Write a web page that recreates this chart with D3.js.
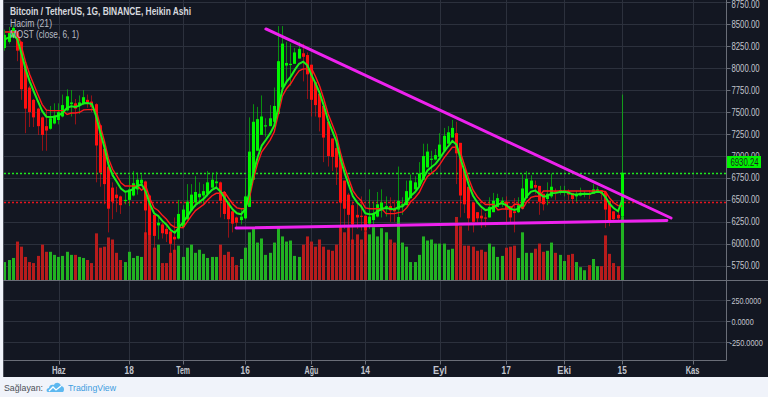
<!DOCTYPE html>
<html>
<head>
<meta charset="utf-8">
<script src="https://cdn.jsdelivr.net/npm/d3@7"></script>
<style>
html, body { margin: 0; padding: 0; background: #f0f3fa; }
svg { display: block; }
</style>
</head>
<body>
<svg id="chart" width="768" height="397"></svg>
<script>
// ---- data (Heikin Ashi daily candles, BTC/USDT) ----
var firstDay = '2018-05-19';

var haOpen = [8230,8300,8350,8400,8300,8030,7780,7640,7540,7440,
  7340,7310,7370,7410,7450,7520,7590,7600,7570,7590,
  7640,7620,7590,7350,7080,6880,6640,6560,6540,6490,
  6500,6550,6620,6690,6710,6550,6330,6210,6220,6170,
  6140,6080,6060,6190,6280,6380,6470,6530,6550,6570,
  6640,6690,6700,6590,6470,6370,6300,6270,6290,6420,
  6730,7060,7240,7340,7340,7390,7480,7780,8030,8040,
  8050,8110,8170,8150,8040,7840,7710,7570,7390,7200,
  7090,6980,6720,6560,6440,6330,6320,6320,6230,6270,
  6310,6380,6420,6430,6400,6390,6440,6440,6520,6620,
  6660,6730,6870,6960,6960,6990,7060,7140,7210,7260,
  7150,6850,6650,6470,6360,6320,6300,6300,6360,6420,
  6470,6480,6430,6370,6360,6400,6520,6630,6670,6660,
  6570,6510,6540,6600,6590,6600,6600,6580,6540,6550,
  6570,6570,6570,6590,6610,6590,6490,6370,6330,6310];

var haClose = [8380,8400,8460,8200,7760,7540,7500,7440,7340,7240,
  7290,7430,7460,7500,7580,7680,7610,7540,7610,7670,
  7610,7560,7120,6810,6680,6400,6480,6520,6440,6500,
  6620,6690,6730,6730,6380,6100,6090,6240,6120,6110,
  6000,6050,6340,6390,6480,6560,6590,6570,6600,6700,
  6730,6710,6490,6340,6280,6230,6240,6310,6540,7050,
  7390,7420,7450,7350,7430,7570,8080,8280,8060,8050,
  8180,8220,8130,7930,7640,7580,7440,7210,7000,6990,
  6870,6470,6400,6330,6220,6300,6310,6150,6310,6350,
  6450,6470,6430,6380,6370,6490,6450,6600,6720,6700,
  6800,7000,7050,6970,7010,7130,7230,7270,7320,7030,
  6550,6450,6290,6250,6290,6290,6290,6420,6490,6520,
  6490,6390,6300,6350,6440,6630,6740,6720,6640,6480,
  6450,6570,6650,6590,6610,6605,6560,6510,6560,6580,
  6575,6560,6620,6620,6570,6390,6260,6280,6290,6810];

var haHigh = [8440,8470,8490,8420,8310,8050,7800,7650,7550,7450,
  7530,7570,7600,7600,7700,7760,7750,7650,7690,7750,
  7700,7690,7600,7360,7090,6890,6700,6650,6550,6590,
  6780,6830,6810,6790,6720,6560,6340,6330,6240,6200,
  6150,6300,6500,6440,6680,6680,6770,6700,6680,6830,
  6810,6820,6710,6600,6480,6380,6310,6400,6750,7440,
  7590,7560,7690,7430,7580,7780,8480,8480,8300,8280,
  8230,8300,8280,8180,8040,7840,7710,7570,7390,7200,
  7150,6980,6720,6580,6480,6480,6540,6320,6620,6480,
  6590,6620,6540,6530,6500,6880,6530,6720,6790,6770,
  6930,7140,7140,7060,7080,7260,7320,7340,7410,7390,
  7150,6850,6650,6470,6360,6400,6350,6530,6580,6570,
  6530,6540,6430,6520,6530,6790,6830,6780,6720,6660,
  6570,6700,6800,6630,6660,6660,6620,6580,6600,6640,
  6600,6610,6680,6650,6610,6590,6490,6370,6360,7700];

var haLow = [8200,8280,8340,8080,7640,7260,7330,7330,7240,7060,
  7060,7300,7360,7360,7440,7510,7450,7360,7480,7580,
  7550,7500,6700,6650,6450,6130,6280,6360,6340,6450,
  6430,6540,6560,6680,6050,6040,5950,6050,6060,6020,
  5860,5900,6050,6180,6270,6370,6420,6450,6450,6540,
  6630,6640,6300,6280,6070,6130,6190,6220,6280,6420,
  6730,7060,7240,7220,7340,7380,7480,7780,7850,7800,
  8050,8110,7850,7650,7450,7450,7280,6930,6880,6830,
  6670,6140,6170,6030,6000,6170,6150,5880,6170,6220,
  6300,6300,6310,6250,6250,6250,6330,6440,6520,6600,
  6650,6730,6870,6800,6950,6990,7060,7140,7210,6680,
  6300,6350,6150,6130,6240,6180,6190,6300,6360,6420,
  6420,6250,6230,6130,6350,6400,6520,6630,6570,6330,
  6380,6440,6520,6500,6560,6540,6500,6460,6480,6540,
  6530,6510,6570,6580,6500,6180,6200,6250,6250,6250];

// volume, thousand BTC
var volume = [18,20,22,38,33,23,18,17,24,35,
  28,28,25,23,24,28,25,25,23,22,
  20,17,46,32,33,42,40,27,20,18,
  28,22,24,23,47,45,32,35,17,17,
  27,30,34,23,32,35,27,30,26,22,
  23,23,35,25,28,23,15,21,32,47,
  51,37,41,25,27,37,52,43,38,39,
  24,23,35,43,38,33,40,33,30,29,
  35,52,47,52,40,45,40,48,45,52,
  43,51,47,40,37,62,37,33,18,18,
  25,43,39,40,36,36,36,30,31,62,
  53,34,34,33,29,30,28,36,33,23,
  24,32,33,34,22,47,27,27,31,36,
  28,29,37,27,25,19,25,26,18,13,
  10,15,21,14,14,44,26,17,14,62];

// MOST (close, 6, 1): moving average and stop line
var mostEma = [8330,8350,8381,8329,8166,7987,7848,7731,7619,7511,
  7448,7443,7448,7463,7496,7549,7566,7559,7574,7601,
  7604,7591,7456,7271,7102,6901,6781,6706,6630,6593,
  6601,6626,6656,6677,6592,6451,6348,6317,6261,6218,
  6156,6126,6187,6245,6312,6383,6442,6479,6514,6567,
  6614,6641,6598,6524,6454,6390,6347,6336,6394,6581,
  6812,6986,7119,7185,7255,7345,7555,7762,7847,7905,
  7984,8051,8074,8033,7921,7824,7714,7570,7407,7288,
  7169,6969,6806,6670,6541,6472,6426,6347,6336,6340,
  6371,6399,6408,6400,6391,6419,6428,6477,6546,6590,
  6650,6750,6836,6874,6913,6975,7048,7111,7171,7131,
  6965,6818,6667,6548,6474,6421,6384,6394,6421,6449,
  6461,6441,6401,6386,6401,6466,6544,6594,6607,6571,
  6536,6546,6576,6580,6589,6594,6584,6563,6562,6567,
  6569,6566,6581,6592,6586,6530,6453,6404,6371,6496];

var mostStop = [8413,8413,8413,8412,8248,8067,7926,7808,7695,7586,
  7522,7517,7517,7517,7517,7474,7490,7490,7498,7525,
  7528,7528,7531,7344,7173,6970,6849,6773,6696,6659,
  6659,6659,6659,6610,6658,6516,6411,6380,6324,6280,
  6218,6187,6187,6183,6249,6319,6378,6414,6449,6501,
  6548,6575,6575,6589,6519,6454,6410,6399,6399,6515,
  6744,6916,7048,7113,7182,7272,7479,7684,7769,7826,
  7904,7970,7993,7993,8000,7902,7791,7646,7481,7361,
  7241,7039,6874,6737,6606,6537,6490,6410,6399,6399,
  6399,6399,6344,6344,6344,6355,6364,6412,6481,6524,
  6584,6683,6768,6805,6844,6905,6978,7040,7099,7099,
  7035,6886,6734,6613,6539,6485,6448,6448,6448,6385,
  6396,6396,6396,6450,6450,6401,6479,6528,6541,6541,
  6601,6601,6601,6601,6601,6601,6601,6601,6601,6601,
  6601,6601,6601,6601,6601,6595,6518,6468,6435,6431];

var priceTicks = [5750,6000,6250,6500,6750,7000,7250,7500,7750,8000,8250,8500,8750];
var lowerTicks = [250, 0, -250];
var dateTicks = ['2018-06-01','2018-06-18','2018-07-01','2018-07-16','2018-08-01','2018-08-14',
  '2018-09-01','2018-09-17','2018-10-01','2018-10-15','2018-11-01'];
var dateTickLabels = ['Haz','18','Tem','16','Ağu','14','Eyl','17','Eki','15','Kas'];

// drawn trend lines and level lines
var trendUpper = [['2018-07-21T00:00:00Z', 8447], ['2018-10-26T19:00:00Z', 6294]];
var trendLower = [['2018-07-13T19:00:00Z', 6180], ['2018-10-25T19:00:00Z', 6266]];
var greenLevel = 6810;
var redLevel = 6475;
var lastPrice = 6930.24;

// ---- layout ----
var svg = d3.select('#chart');
var plotL = 4, plotR = 726.5;
var mainTop = 0, mainBot = 280.5, lowTop = 281, lowBot = 360.5, panelBot = 377;
var FONT = '"Liberation Sans", Arial, sans-serif';
var gridColor = '#2c313d';
var axisColor = '#6a6e78';
var textColor = '#c3c6ce';
var up = '#00f400', down = '#ff0f0f';

// squeeze text to the narrow width the reference uses
function narrow(sel, perChar) {
  sel.attr('textLength', function () { return this.textContent.length * perChar; })
     .attr('lengthAdjust', 'spacingAndGlyphs');
}

var start = d3.isoParse(firstDay + 'T00:00:00Z');
var days = d3.utcDay.range(start, d3.utcDay.offset(start, haClose.length));

var bars = days.map(function (d, i) {
  return { date: d, o: haOpen[i], c: haClose[i], h: haHigh[i], l: haLow[i],
           v: volume[i], ema: mostEma[i], most: mostStop[i] };
});

var x = d3.scaleUtc()
  .domain([new Date(Date.UTC(2018, 5, 1)), new Date(Date.UTC(2018, 10, 1))])
  .range([58.8, 692.6]);
var y = d3.scaleLinear().domain([5582, 8777]).range([mainBot, mainTop]);
var yLow = d3.scaleLinear().domain([-464, 476]).range([lowBot, lowTop]);
var yVol = d3.scaleLinear().domain([0, 100]).range([mainBot, 178]);

// panel background
svg.append('rect')
  .attr('x', 3).attr('y', 0)
  .attr('width', 765).attr('height', panelBot)
  .attr('fill', '#131722');
svg.append('line')
  .attr('x1', 3.5).attr('x2', 3.5).attr('y1', 0).attr('y2', panelBot)
  .attr('stroke', '#4a4e59');

svg.append('clipPath').attr('id', 'mainClip')
  .append('rect').attr('x', plotL).attr('y', mainTop)
  .attr('width', plotR - plotL).attr('height', mainBot - mainTop);

// grid
var grid = svg.append('g').attr('stroke', gridColor).attr('stroke-width', 1);
grid.selectAll('line.v')
  .data(dateTicks)
  .enter().append('line')
  .attr('class', 'v')
  .attr('x1', function (d) { return Math.round(x(d3.isoParse(d + 'T00:00:00Z'))) + 0.5; })
  .attr('x2', function (d) { return Math.round(x(d3.isoParse(d + 'T00:00:00Z'))) + 0.5; })
  .attr('y1', mainTop).attr('y2', lowBot);
grid.selectAll('line.h')
  .data(priceTicks)
  .enter().append('line')
  .attr('class', 'h')
  .attr('x1', plotL).attr('x2', plotR)
  .attr('y1', function (d) { return Math.round(y(d)) + 0.5; })
  .attr('y2', function (d) { return Math.round(y(d)) + 0.5; });
grid.selectAll('line.hl')
  .data(lowerTicks)
  .enter().append('line')
  .attr('class', 'hl')
  .attr('x1', plotL).attr('x2', plotR)
  .attr('y1', function (d) { return Math.round(yLow(d)) + 0.5; })
  .attr('y2', function (d) { return Math.round(yLow(d)) + 0.5; });

var main = svg.append('g').attr('clip-path', 'url(#mainClip)');

// volume bars
main.append('g').selectAll('rect')
  .data(bars)
  .enter().append('rect')
  .attr('x', function (d) { return Math.round(x(d.date) - 1.5); })
  .attr('y', function (d) { return yVol(d.v); })
  .attr('width', 3)
  .attr('height', function (d) { return mainBot - yVol(d.v); })
  .attr('fill', function (d) { return d.c >= d.o ? '#22b322' : '#b81c1c'; });

// level lines
var levels = [{ v: greenLevel, color: '#1ee61e' }, { v: redLevel, color: '#e8141e' }];
main.append('g').selectAll('line')
  .data(levels)
  .enter().append('line')
  .attr('x1', plotL).attr('x2', plotR)
  .attr('y1', function (d) { return Math.round(y(d.v)) + 0.5; })
  .attr('y2', function (d) { return Math.round(y(d.v)) + 0.5; })
  .attr('stroke', function (d) { return d.color; })
  .attr('stroke-width', 1.6)
  .attr('stroke-dasharray', '2,2');

// candle wicks
main.append('g').selectAll('line')
  .data(bars)
  .enter().append('line')
  .attr('x1', function (d) { return Math.round(x(d.date) - 1.5) + 1.5; })
  .attr('x2', function (d) { return Math.round(x(d.date) - 1.5) + 1.5; })
  .attr('y1', function (d) { return y(d.h); })
  .attr('y2', function (d) { return y(d.l); })
  .attr('stroke', function (d) { return d.c >= d.o ? up : down; })
  .attr('stroke-opacity', 0.55);

// candle bodies
main.append('g').selectAll('rect')
  .data(bars)
  .enter().append('rect')
  .attr('x', function (d) { return Math.round(x(d.date) - 1.5); })
  .attr('y', function (d) { return y(Math.max(d.o, d.c)); })
  .attr('width', 3)
  .attr('height', function (d) { return Math.max(1.2, Math.abs(y(d.o) - y(d.c))); })
  .attr('fill', function (d) { return d.c >= d.o ? up : down; });

// MOST lines
main.append('path')
  .datum(bars)
  .attr('fill', 'none')
  .attr('stroke', '#ff1a1a')
  .attr('stroke-width', 1.4)
  .attr('d', d3.line()
    .x(function (d) { return x(d.date); })
    .y(function (d) { return y(d.most); }));
main.append('path')
  .datum(bars)
  .attr('fill', 'none')
  .attr('stroke', '#19f019')
  .attr('stroke-width', 2)
  .attr('d', d3.line()
    .x(function (d) { return x(d.date); })
    .y(function (d) { return y(d.ema); }));

// trend lines
var trendLine = d3.line()
  .x(function (d) { return x(new Date(d[0])); })
  .y(function (d) { return y(d[1]); });
main.selectAll('path.trend')
  .data([trendUpper, trendLower])
  .enter().append('path')
  .attr('class', 'trend')
  .attr('fill', 'none')
  .attr('stroke', '#ee22ee')
  .attr('stroke-width', 3)
  .attr('stroke-linecap', 'round')
  .attr('d', trendLine);

// pane borders
var frame = svg.append('g').attr('stroke', axisColor).attr('stroke-width', 1);
frame.append('line').attr('x1', 3).attr('x2', 768).attr('y1', mainBot).attr('y2', mainBot);
frame.append('line').attr('x1', plotR).attr('x2', plotR).attr('y1', 0).attr('y2', lowBot);
frame.append('line').attr('x1', 3).attr('x2', plotR).attr('y1', lowBot).attr('y2', lowBot);

// price axis (7000 sits under the last price label, as in the reference)
var priceAxis = svg.append('g');
priceAxis.selectAll('line')
  .data(priceTicks)
  .enter().append('line')
  .attr('x1', plotR).attr('x2', plotR + 4)
  .attr('y1', function (d) { return Math.round(y(d)) + 0.5; })
  .attr('y2', function (d) { return Math.round(y(d)) + 0.5; })
  .attr('stroke', axisColor);
priceAxis.selectAll('text')
  .data(priceTicks)
  .enter().append('text')
  .attr('x', plotR + 5)
  .attr('y', function (d) { return Math.max(y(d) + 3.5, 7.5); })
  .attr('fill', textColor)
  .style('font', '10px ' + FONT)
  .text(function (d) { return d3.format('.2f')(d); })
  .call(narrow, 4);

// lower pane axis
var lowAxis = svg.append('g');
lowAxis.selectAll('line')
  .data(lowerTicks)
  .enter().append('line')
  .attr('x1', plotR).attr('x2', plotR + 4)
  .attr('y1', function (d) { return Math.round(yLow(d)) + 0.5; })
  .attr('y2', function (d) { return Math.round(yLow(d)) + 0.5; })
  .attr('stroke', axisColor);
lowAxis.selectAll('text')
  .data(lowerTicks)
  .enter().append('text')
  .attr('x', function (d) { return d < 0 ? plotR + 3 : plotR + 5; })
  .attr('y', function (d) { return yLow(d) + 3.5; })
  .attr('fill', textColor)
  .style('font', '9.5px ' + FONT)
  .text(function (d) { return d3.format('.4f')(d).replace('−', '-'); })
  .call(narrow, 3.7);

// time axis
var timeAxis = svg.append('g');
timeAxis.selectAll('line')
  .data(dateTicks)
  .enter().append('line')
  .attr('x1', function (d) { return Math.round(x(d3.isoParse(d + 'T00:00:00Z'))) + 0.5; })
  .attr('x2', function (d) { return Math.round(x(d3.isoParse(d + 'T00:00:00Z'))) + 0.5; })
  .attr('y1', lowBot).attr('y2', lowBot + 4)
  .attr('stroke', axisColor);
timeAxis.selectAll('text')
  .data(dateTicks)
  .enter().append('text')
  .attr('x', function (d) { return x(d3.isoParse(d + 'T00:00:00Z')); })
  .attr('y', 373.5)
  .attr('text-anchor', 'middle')
  .attr('fill', textColor)
  .style('font', 'bold 10px ' + FONT)
  .text(function (d, i) { return dateTickLabels[i]; })
  .call(narrow, 4.6);

// last price label
var lp = svg.append('g');
lp.append('rect')
  .attr('x', plotR + 0.5).attr('y', Math.round(y(lastPrice)) - 6)
  .attr('width', 34).attr('height', 12)
  .attr('fill', '#00f400');
lp.append('text')
  .attr('x', plotR + 4).attr('y', y(lastPrice) + 3.5)
  .attr('fill', '#1a1d24')
  .style('font', '10px ' + FONT)
  .text(d3.format('.2f')(lastPrice))
  .call(narrow, 4);

// legend
var legend = svg.append('g').style('font', '10px ' + FONT);
legend.append('text').attr('x', 10).attr('y', 15).attr('fill', '#d6d8de')
  .style('font-weight', 'bold')
  .text('Bitcoin / TetherUS, 1G, BINANCE, Heikin Ashi')
  .attr('textLength', 181).attr('lengthAdjust', 'spacingAndGlyphs');
legend.append('text').attr('x', 10).attr('y', 26.5).attr('fill', '#b9bcc4')
  .text('Hacim (21)')
  .attr('textLength', 42).attr('lengthAdjust', 'spacingAndGlyphs');
legend.append('text').attr('x', 10).attr('y', 37.5).attr('fill', '#b9bcc4')
  .text('MOST (close, 6, 1)')
  .attr('textLength', 69).attr('lengthAdjust', 'spacingAndGlyphs');

// footer
var footer = svg.append('g');
footer.append('text').attr('x', 4).attr('y', 391)
  .attr('fill', '#4b4f57')
  .style('font', '9.5px ' + FONT)
  .text('Sağlayan:')
  .attr('textLength', 39).attr('lengthAdjust', 'spacingAndGlyphs');
var logo = footer.append('g').attr('transform', 'translate(47,382)');
logo.append('path')
  .attr('d', 'M1,10 C-1,10 -1,6 2,6 C2,3 5,2 7,3 C8,0 13,0 14,4 C17,4 18,8 16,10 Z')
  .attr('fill', '#5db8f0');
logo.append('path')
  .attr('d', 'M2,9 L6,5 L9,8 L14,4')
  .attr('fill', 'none').attr('stroke', '#ffffff').attr('stroke-width', 1.3);
footer.append('text').attr('x', 68).attr('y', 391)
  .attr('fill', '#3d9de0')
  .style('font', '9.5px ' + FONT)
  .text('TradingView')
  .attr('textLength', 48).attr('lengthAdjust', 'spacingAndGlyphs');
</script>
</body>
</html>
